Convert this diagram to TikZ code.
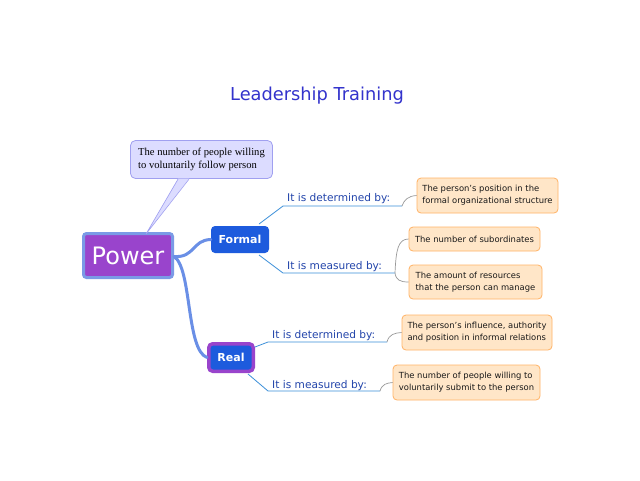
\documentclass[tikz,border=0pt]{standalone}
\usepackage{fontspec}
\setmainfont{DejaVu Sans}
\newfontfamily\serifcall{Liberation Serif}
\definecolor{titleblue}{HTML}{3333CC}
\definecolor{powerfill}{HTML}{9944CC}
\definecolor{powerborder}{HTML}{7A9AE6}
\definecolor{callfill}{HTML}{DCDCFF}
\definecolor{callborder}{HTML}{A0A0F0}
\definecolor{nodeblue}{HTML}{1D5BDD}
\definecolor{mainline}{HTML}{6A8FE6}
\definecolor{branchline}{HTML}{3B8FD9}
\definecolor{labelblue}{HTML}{2244AA}
\definecolor{orfill}{HTML}{FFE6C8}
\definecolor{orborder}{HTML}{FFB366}
\definecolor{leafline}{HTML}{999999}
\begin{document}
\begin{tikzpicture}[x=1pt,y=-1pt,
  leaf/.style={draw=orborder,fill=orfill,rounded corners=4pt,line width=0.8pt,inner sep=0pt,align=left,font=\fontsize{8.4}{12}\selectfont,text=black!90},
  topic/.style={rounded corners=4pt,text=white,font=\fontsize{11}{13}\selectfont\bfseries,inner sep=0pt},
  mainconn/.style={draw=mainline,line width=3pt,line cap=round},
  branch/.style={draw=branchline,line width=0.8pt},
  leafconn/.style={draw=leafline,line width=0.7pt},
  lbl/.style={text=labelblue,font=\fontsize{10.6}{12}\selectfont,inner sep=0pt,anchor=base west}]
\useasboundingbox (0,0) rectangle (640,480);
\fill[white] (0,0) rectangle (640,480);

\node[text=titleblue,font=\fontsize{17.8}{20}\selectfont] (title) at (317,96) {Leadership Training};

% callout
\node[draw=callborder,fill=callfill,rounded corners=5pt,line width=0.8pt,minimum width=142pt,minimum height=38pt,inner sep=0pt,align=left,font=\serifcall\fontsize{10.6}{13}\selectfont] (call) at (201.5,159.5) {The number of people willing\\to voluntarily follow person};

% power
\node[draw=powerborder,fill=powerfill,line width=3pt,rounded corners=3pt,minimum width=89pt,minimum height=44pt,inner sep=0pt,text=white,font=\fontsize{24}{26}\selectfont] (power) at (128,255.5) {Power};
\coordinate (tip) at (146,234);
\fill[callfill] (178,178.6) -- (tip) -- (189,178.6) -- cycle;
\draw[callborder,line width=0.6pt] (178,179.2) -- (tip) -- (189,179.2);

% topics
\node[topic,fill=nodeblue,minimum width=58pt,minimum height=27pt] (formal) at (240,239.5) {Formal};
\node[topic,fill=nodeblue,draw=powerfill,line width=3.5pt,minimum width=44.5pt,minimum height=27.5pt] (real) at (231,357.5) {Real};

\draw[mainconn] (power.east) ++(0,1) coordinate (p1);
\draw[mainconn] (p1) .. controls (195,258) and (192,240) .. (formal.west);
\draw[mainconn] (p1) .. controls (192,268) and (186,350) .. (real.west);

% leaves
\node[leaf,minimum width=141pt,minimum height=35pt] (la) at (487.5,195.5) {The person's position in the\\formal organizational structure};
\node[leaf,minimum width=131pt,minimum height=24pt] (lb) at (474.5,239) {The number of subordinates};
\node[leaf,minimum width=133pt,minimum height=34pt] (lc) at (475.5,282) {The amount of resources\\that the person can manage};
\node[leaf,minimum width=150pt,minimum height=35pt] (ld) at (477,332.5) {The person's influence, authority\\and position in informal relations};
\node[leaf,minimum width=147pt,minimum height=35pt] (le) at (466.5,382.5) {The number of people willing to\\voluntarily submit to the person};

% formal branches
\coordinate (f1a) at (259,224);
\coordinate (f1b) at (283,206);
\coordinate (f1c) at (402,206);
\draw[branch] (f1a) -- (f1b) -- (f1c);
\node[lbl] (fl1) at (287,201) {It is determined by:};
\draw[leafconn] (f1c) .. controls (404,200) and (408,196) .. (la.west);

\coordinate (f2a) at (259,255);
\coordinate (f2b) at (283,273);
\coordinate (f2c) at (395,273);
\draw[branch] (f2a) -- (f2b) -- (f2c);
\node[lbl] (fl2) at (287,269) {It is measured by:};
\draw[leafconn] (f2c) .. controls (396,250) and (398,239) .. (lb.west);
\draw[leafconn] (f2c) .. controls (396,280) and (400,282) .. (lc.west);

% real branches
\coordinate (r1a) at (255,347);
\coordinate (r1b) at (268,342);
\coordinate (r1c) at (387,342);
\draw[branch] (r1a) -- (r1b) -- (r1c);
\node[lbl] (rl1) at (272,338) {It is determined by:};
\draw[leafconn] (r1c) .. controls (389,334) and (395,333) .. (ld.west);

\coordinate (r2a) at (248,374);
\coordinate (r2b) at (268,391);
\coordinate (r2c) at (380,391);
\draw[branch] (r2a) -- (r2b) -- (r2c);
\node[lbl] (rl2) at (272,388) {It is measured by:};
\draw[leafconn] (r2c) .. controls (382,384) and (387,383) .. (le.west);
\end{tikzpicture}
\end{document}
